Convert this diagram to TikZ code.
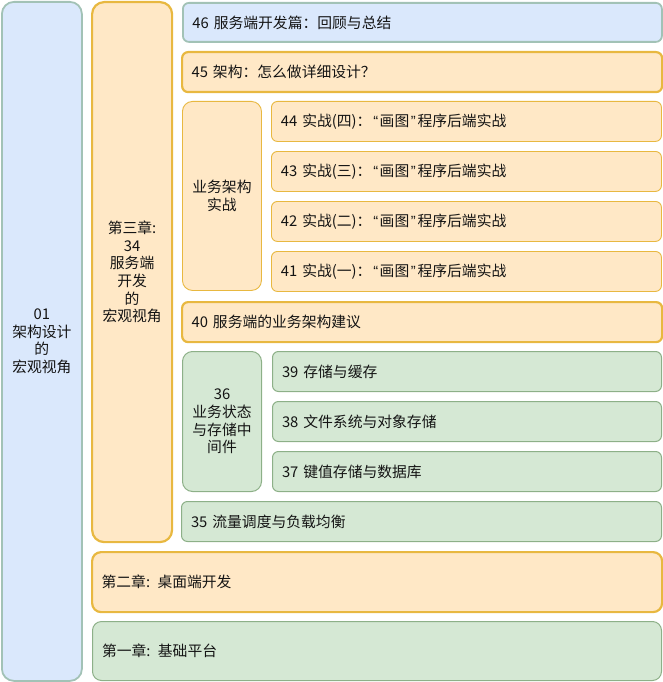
\documentclass[tikz,border=0pt]{standalone}
\usepackage{fontspec}
\setmainfont{Noto Sans CJK SC}
\newfontfamily\latinq{Liberation Sans}
\newcommand{\openq}{\hspace{1.8pt}{\latinq “}\hspace{1.5pt}}
\newcommand{\closeq}{\hspace{1.5pt}{\latinq ”}\hspace{1.8pt}}
\definecolor{bluefill}{HTML}{DAE8FC}
\definecolor{bluedraw}{HTML}{A2C2B6}
\definecolor{orfill}{HTML}{FFE8C6}
\definecolor{ordraw}{HTML}{E8B840}
\definecolor{grfill}{HTML}{D5E8D4}
\definecolor{grdraw}{HTML}{8DB088}
\definecolor{ink}{HTML}{141414}
\tikzset{
  x=1pt, y=-1pt,
  box/.style={rectangle, anchor=north west, inner sep=0pt, text=ink,
    font=\fontsize{14.8}{17.6}\selectfont},
  bluebox/.style={box, fill=bluefill, draw=bluedraw, line width=1.8pt},
  orbox/.style={box, fill=orfill, draw=ordraw, line width=0.9pt},
  orthick/.style={box, fill=orfill, draw=ordraw, line width=2.2pt},
  grbox/.style={box, fill=grfill, draw=grdraw, line width=1pt},
  wide/.style 2 args={minimum width=#1, minimum height=#2, text width=#1-19pt,
    align=left, inner xsep=9.5pt, rounded corners=6pt},
  tall/.style 2 args={minimum width=#1, minimum height=#2, text width=#1-4pt,
    align=center, inner xsep=2pt, rounded corners=10pt},
}
\begin{document}
\begin{tikzpicture}
\useasboundingbox (0,0) rectangle (663,682);

% outer column and chapter three column
\node[bluebox, tall={80pt}{679pt}, rounded corners=12pt] (c01) at (1,1)
  {01\\架构设计\\的\\宏观视角};
\node[orthick, tall={80pt}{540pt}, rounded corners=12pt] (ch3) at (91,1)
  {第三章:\\34\\服务端\\开发\\的\\宏观视角};

% chapter three items
\node[bluebox, wide={479pt}{39pt}] (n46) at (182,2) {46 服务端开发篇：回顾与总结};
\node[orthick, wide={480pt}{40pt}] (n45) at (181,51) {45 架构：怎么做详细设计？};

\node[orbox, tall={79pt}{189pt}] (g1) at (182,101) {业务架构\\实战};
\node[orbox, wide={390pt}{40pt}] (n44) at (271,101) {44 实战(四)：\openq 画图\closeq 程序后端实战};
\node[orbox, wide={390pt}{40pt}] (n43) at (271,151) {43 实战(三)：\openq 画图\closeq 程序后端实战};
\node[orbox, wide={390pt}{40pt}] (n42) at (271,201) {42 实战(二)：\openq 画图\closeq 程序后端实战};
\node[orbox, wide={390pt}{40pt}] (n41) at (271,251) {41 实战(一)：\openq 画图\closeq 程序后端实战};

\node[orthick, wide={480pt}{40pt}] (n40) at (181,301) {40 服务端的业务架构建议};

\node[grbox, tall={79pt}{140pt}] (g2) at (182,351) {36\\业务状态\\与存储中\\间件};
\node[grbox, wide={389pt}{40pt}] (n39) at (272,351) {39 存储与缓存};
\node[grbox, wide={389pt}{40pt}] (n38) at (272,401) {38 文件系统与对象存储};
\node[grbox, wide={389pt}{40pt}] (n37) at (272,451) {37 键值存储与数据库};

\node[grbox, wide={480pt}{40pt}] (n35) at (181,501) {35 流量调度与负载均衡};

% chapters two and one
\node[orthick, wide={570pt}{60pt}, rounded corners=9pt] (ch2) at (91,551) {第二章: 桌面端开发};
\node[grbox, wide={569pt}{59pt}, rounded corners=9pt] (ch1) at (92,621) {第一章: 基础平台};
\end{tikzpicture}
\end{document}
